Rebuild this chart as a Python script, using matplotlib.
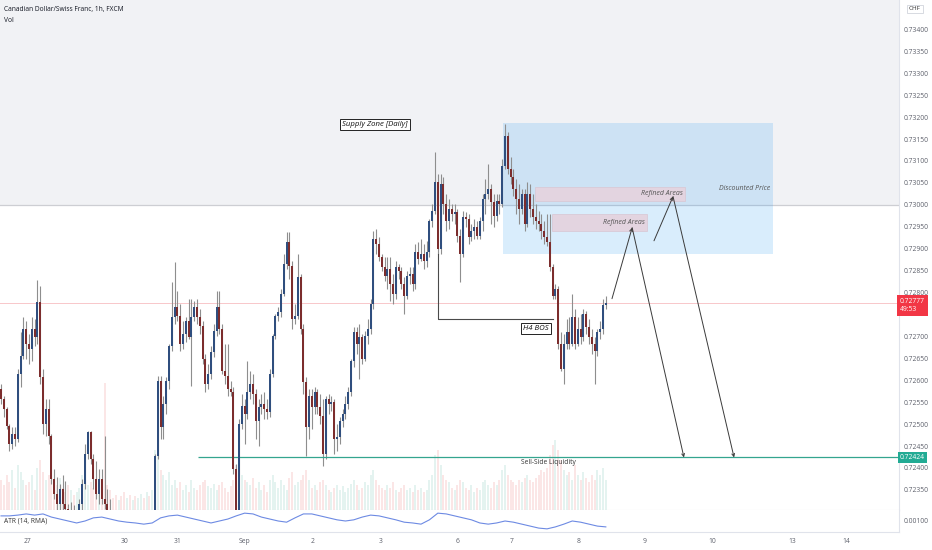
import numpy as np
import matplotlib
matplotlib.use('Agg')
import matplotlib.pyplot as plt
from matplotlib.patches import Rectangle
from matplotlib.transforms import blended_transform_factory, offset_copy

# ---------------- data (prices in 1e-5 CHF) ----------------
first_open = 72581
closes = [
 72558,72535,72496,72455,72478,72467,72615,72656,72718,72683,
 72672,72718,72699,72779,72608,72501,72535,72474,72376,72341,
 72319,72353,72319,72307,72273,72284,72262,72284,72319,72364,
 72433,72483,72421,72376,72341,72376,72330,72319,72296,72273,
 72250,72227,72239,72216,72205,72221,72211,72227,72216,72234,
 72243,72239,72257,72250,72273,72428,72599,72494,72547,72599,
 72679,72745,72768,72747,72683,72706,72734,72699,72745,72768,
 72745,72724,72649,72592,72615,72665,72713,72768,72718,72622,
 72610,72581,72574,72398,72284,72501,72542,72524,72574,72592,
 72569,72506,72540,72547,72535,72528,72615,72702,72747,72756,
 72797,72866,72916,72861,72740,72747,72836,72718,72597,72494,
 72563,72540,72574,72540,72519,72433,72558,72547,72551,72467,
 72471,72506,72524,72547,72574,72645,72711,72683,72699,72649,
 72702,72718,72775,72923,72911,72882,72859,72838,72854,72820,
 72797,72859,72850,72820,72791,72838,72843,72820,72893,72877,
 72889,72873,72893,72962,72987,73053,72900,73048,73003,72964,
 72991,72980,72984,72930,72889,72973,72968,72927,72941,72950,
 72930,72964,73014,73025,73037,73007,72975,73009,73003,73089,
 73158,73082,73064,73037,73014,72991,73025,72957,73025,72991,
 72973,72964,72957,72941,72927,72916,72859,72793,72809,72683,
 72626,72683,72711,72683,72745,72683,72718,72699,72752,72722,
 72699,72683,72667,72711,72718,72772,72777]
highs = [
 72592,72563,72540,72501,72494,72494,72626,72711,72745,72736,
 72706,72745,72740,72829,72816,72626,72558,72558,72478,72398,
 72380,72364,72385,72371,72319,72323,72316,72303,72330,72376,
 72455,72485,72485,72433,72417,72398,72398,72474,72353,72330,
 72296,72266,72250,72255,72227,72239,72234,72243,72239,72250,
 72266,72262,72273,72273,72289,72433,72610,72610,72563,72608,
 72683,72825,72870,72804,72775,72736,72745,72786,72786,72781,
 72786,72763,72736,72661,72638,72677,72729,72804,72804,72729,
 72683,72683,72599,72585,72410,72512,72569,72558,72645,72622,
 72615,72581,72558,72569,72574,72558,72626,72706,72752,72768,
 72809,72889,72939,72939,72873,72775,72889,72843,72729,72608,
 72581,72581,72585,72581,72569,72558,72563,72569,72563,72558,
 72501,72517,72535,72563,72585,72649,72722,72722,72729,72706,
 72713,72740,72786,72941,72946,72927,72889,72882,72882,72882,
 72843,72873,72866,72859,72836,72850,72859,72859,72911,72916,
 72923,72911,72918,72968,73003,73121,73071,73071,73064,73025,
 73014,73003,73003,72991,72946,72987,72984,72980,72957,72968,
 72964,72973,73025,73060,73094,73048,73025,73025,73025,73105,
 73185,73167,73110,73082,73060,73048,73037,73037,73053,73048,
 73025,73003,72987,72980,72964,72980,72980,72866,72820,72816,
 72711,72706,72740,72745,72797,72763,72745,72752,72763,72759,
 72740,72718,72699,72718,72736,72786,72791]
lows = [
 72547,72517,72490,72439,72444,72451,72460,72585,72649,72649,
 72638,72645,72677,72683,72592,72478,72474,72455,72364,72330,
 72296,72296,72303,72284,72250,72250,72239,72239,72262,72284,
 72353,72421,72410,72353,72330,72319,72319,72307,72284,72262,
 72239,72211,72205,72198,72182,72189,72193,72198,72202,72205,
 72221,72225,72227,72234,72239,72262,72421,72467,72467,72524,
 72581,72667,72729,72734,72667,72672,72688,72695,72588,72736,
 72729,72706,72638,72574,72581,72604,72654,72702,72706,72615,
 72592,72563,72563,72387,72239,72227,72490,72455,72512,72558,
 72547,72467,72451,72524,72512,72512,72517,72608,72695,72736,
 72745,72791,72854,72832,72718,72729,72740,72706,72569,72428,
 72467,72490,72524,72524,72501,72405,72421,72524,72531,72433,
 72439,72455,72494,72512,72535,72563,72631,72661,72604,72638,
 72645,72683,72706,72763,72889,72873,72850,72827,72809,72781,
 72775,72786,72832,72809,72752,72786,72820,72804,72809,72866,
 72873,72854,72859,72882,72950,72980,72889,72889,72980,72941,
 72946,72964,72957,72916,72825,72882,72950,72911,72918,72923,
 72923,72923,72941,72980,73014,72957,72950,72964,72980,72996,
 73082,73071,73048,73019,72980,72957,72980,72941,72950,72973,
 72957,72946,72941,72923,72911,72905,72850,72786,72786,72672,
 72622,72592,72672,72672,72677,72672,72677,72683,72690,72706,
 72683,72661,72592,72656,72695,72706,72763]
volume = [
 30,25,35,28,40,22,45,38,30,25,28,35,20,42,50,38,30,35,
 30,28,25,32,22,18,25,20,15,18,22,35,30,25,28,22,26,20,18,127,25,20,
 12,15,10,14,18,12,15,10,14,12,16,12,18,14,20,
 60,70,40,35,30,38,
 25,30,22,28,20,25,18,30,22,20,25,28,30,24,22,26,20,25,28,22,18,24,30,45,
 50,35,30,28,25,32,22,28,20,25,18,30,35,28,22,30,25,20,32,38,25,28,30,35,40,30,
 22,25,20,28,30,25,20,18,22,25,20,24,18,22,26,30,25,20,22,28,25,35,
 40,30,25,22,20,25,22,28,20,18,22,25,20,22,18,25,20,22,18,20,30,35,55,60,45,35,30,28,
 22,20,25,30,28,22,20,25,18,22,20,28,30,25,22,28,25,30,40,45,
 35,30,28,25,30,28,32,35,30,28,32,35,40,38,42,55,65,70,60,50,
 40,35,38,30,45,35,30,38,32,28,35,30,40,35,42,30]
# ATR(14, RMA), one reading every 3 bars, in 1e-5
atr = [111,111,113,116,113,116,108,103,98,93,98,106,108,103,98,95,93,90,93,106,
       111,113,108,103,98,93,98,103,111,118,116,108,103,98,95,106,116,116,111,106,
       101,98,101,108,113,111,106,101,95,93,90,101,118,116,111,106,101,93,90,93,
       98,95,90,85,80,78,83,90,98,95,90,85,83]

day_pos = [9.3, 44.3, 63.2, 87.1, 111.4, 135.4, 162.9, 182.5, 206.1, 230.0, 253.9, 282.5, 301.8]
day_labels = ['27', '30', '31', 'Sep', '2', '3', '6', '7', '8', '9', '10', '13', '14']

last_price = 0.72777
countdown = '49:53'
ssl_price = 0.72424
ssl_start = 70.4
supply_floor = 0.73000
discount_box = (179.3, 275.7, 0.72889, 0.73187)   # x0, x1, p0, p1
refined_1 = (190.7, 244.3, 0.73009, 0.73041)
refined_2 = (196.8, 230.7, 0.72941, 0.72978)
bos_path_x = [156, 156, 197]
bos_path_p = [0.72889, 0.72740, 0.72740]
path_a = [(218.2, 0.72786), (225.4, 0.72948), (243.9, 0.72424)]
path_b = [(233.2, 0.72918), (240.0, 0.73019), (261.8, 0.72424)]

# ---------------- figure ----------------
W, H = 932, 550
fig = plt.figure(figsize=(W / 100, H / 100), dpi=100)
fig.patch.set_facecolor('white')
FONT = 'Open Sans'
plt.rcParams['font.family'] = [FONT, 'DejaVu Sans']

ax = fig.add_axes([0, (H - 510) / H, 899 / W, 510 / H])
ax_atr = fig.add_axes([0, (H - 532) / H, 899 / W, 22 / H])

c = np.array(closes) / 1e5
o = np.concatenate([[first_open / 1e5], c[:-1]])
hi = np.maximum(np.array(highs) / 1e5, np.maximum(o, c))
lo = np.minimum(np.array(lows) / 1e5, np.minimum(o, c))
x = np.arange(len(c))
up = c >= o

ymax = 0.73467
ymin = ymax - 510 * 0.0000228
xmin, xmax = -0.36, 320.7
ax.set_xlim(xmin, xmax)
ax.set_ylim(ymin, ymax)

# backgrounds
ax.axhspan(supply_floor, ymax + 0.001, color='#f1f2f5', zorder=0, lw=0)
ax.axhline(supply_floor, color='#cdced3', lw=0.9, zorder=1)
ax.axhline(last_price, color='#f7b8bc', lw=0.7, alpha=0.8, zorder=1)

# volume
vol_unit = (ymax - ymin) / 510
vcol = np.where(up, '#e4f3f0', '#fbe6e6')
ax.bar(x, np.array(volume) * vol_unit, bottom=ymin, width=0.72, color=vcol, lw=0, zorder=1)

# boxes
x0, x1, p0, p1 = discount_box
ax.add_patch(Rectangle((x0, p0), x1 - x0, p1 - p0, fc=(0.13, 0.59, 0.95, 0.17), ec='none', zorder=2))
for (rx0, rx1, rp0, rp1) in (refined_1, refined_2):
    ax.add_patch(Rectangle((rx0, rp0), rx1 - rx0, rp1 - rp0, fc='#e3d4e0', ec='#d8c6d3', lw=0.5, zorder=2.5))

# candles
wick_col = '#8e8e8e'
body_col = np.where(up, '#2f4e7e', '#7c2d2d')
ax.vlines(x, lo, hi, color=wick_col, lw=0.8, zorder=3)
body_b = np.minimum(o, c)
body_h = np.maximum(np.abs(c - o), 0.000015)
ax.bar(x, body_h, bottom=body_b, width=0.7, color=body_col, lw=0, zorder=4)

# sell-side liquidity line
ax.hlines(ssl_price, ssl_start, xmax + 5, color='#34a58f', lw=0.9, zorder=3, clip_on=False)
ax.text(195.4, ssl_price - 0.00003, 'Sell-Side Liquidity', fontsize=4.8, color='#333333',
        ha='center', va='top', zorder=6)

# H4 BOS
ax.plot(bos_path_x, bos_path_p, color='#4a4a4a', lw=0.8, zorder=5)
ax.text(191.1, 0.72718, 'H4 BOS', fontsize=5.6, style='italic', color='#111111', ha='center', va='center',
        zorder=6, bbox=dict(boxstyle='square,pad=0.3', fc='white', ec='#222222', lw=0.7))

# supply zone label
ax.text(133.6, 0.73183, 'Supply Zone [Daily]', fontsize=5.6, style='italic', color='#111111',
        ha='center', va='center', zorder=6,
        bbox=dict(boxstyle='square,pad=0.3', fc='white', ec='#222222', lw=0.7))

# refined areas + discounted price
ax.text(refined_1[1] - 0.8, (refined_1[2] + refined_1[3]) / 2, 'Refined Areas', fontsize=5.0,
        style='italic', color='#555555', ha='right', va='center', zorder=6)
ax.text(refined_2[1] - 0.8, (refined_2[2] + refined_2[3]) / 2, 'Refined Areas', fontsize=5.0,
        style='italic', color='#555555', ha='right', va='center', zorder=6)
ax.text(265.4, 0.73037, 'Discounted Price', fontsize=5.0, style='italic', color='#555555',
        ha='center', va='center', zorder=6)

# projected paths
for path in (path_a, path_b):
    for (s, e) in ((path[0], path[1]), (path[1], path[2])):
        ax.annotate('', xy=e, xytext=s, zorder=6,
                    arrowprops=dict(arrowstyle='->', color='#3a3a3a', lw=0.7,
                                    shrinkA=0, shrinkB=0, mutation_scale=5))

# axes styling
for sp in ('top', 'left'):
    ax.spines[sp].set_visible(False)
ax.spines['right'].set_color('#e0e3eb')
ax.spines['bottom'].set_color('#e0e3eb')
ax.set_xticks([])
ticks = [0.72350, 0.72400, 0.72450, 0.72500, 0.72550, 0.72600, 0.72650, 0.72700,
         0.72800, 0.72850, 0.72900, 0.72950, 0.73000, 0.73050, 0.73100, 0.73150,
         0.73200, 0.73250, 0.73300, 0.73350, 0.73400]
ax.yaxis.tick_right()
ax.set_yticks(ticks)
ax.set_yticklabels([f'{t:.5f}' for t in ticks])
ax.tick_params(axis='y', length=0, pad=3, labelsize=4.9, labelcolor='#5d606b')

blend = blended_transform_factory(ax.transAxes, ax.transData)
ax.text(1.0 + 1 / 899, last_price, f'{last_price:.5f}\n{countdown}',
        transform=offset_copy(blend, fig=fig, x=0, y=5, units='dots'),
        fontsize=4.9, color='white', ha='left', va='top', linespacing=1.35, clip_on=False, zorder=10,
        bbox=dict(boxstyle='square,pad=0.45', fc='#f23645', ec='none'))
ax.text(1.0 + 1 / 899, ssl_price, f'{ssl_price:.5f}', transform=blend,
        fontsize=4.9, color='white', ha='left', va='center', clip_on=False, zorder=10,
        bbox=dict(boxstyle='square,pad=0.35', fc='#22ab94', ec='none'))

# ATR pane
ax_atr.set_xlim(xmin, xmax)
ax_atr.set_ylim(0.00070, 0.00126)
atr_x = np.arange(len(atr)) * 3
ax_atr.plot(atr_x, np.array(atr) / 1e5, color='#6d8ae3', lw=0.8)
for sp in ('top', 'left'):
    ax_atr.spines[sp].set_visible(False)
ax_atr.spines['right'].set_color('#e0e3eb')
ax_atr.spines['bottom'].set_color('#e0e3eb')
ax_atr.yaxis.tick_right()
ax_atr.set_yticks([0.00100])
ax_atr.set_yticklabels(['0.00100'])
ax_atr.tick_params(axis='y', length=0, pad=3, labelsize=4.9, labelcolor='#5d606b')
ax_atr.set_xticks(day_pos)
ax_atr.set_xticklabels(day_labels)
ax_atr.tick_params(axis='x', length=0, pad=4.5, labelsize=4.9, labelcolor='#5d606b')
ax_atr.text(0.004, 0.5, 'ATR (14, RMA)', transform=ax_atr.transAxes, fontsize=4.8,
            color='#333333', va='center', ha='left')

# header
fig.text(4 / W, 1 - 10 / H, 'Canadian Dollar/Swiss Franc, 1h, FXCM', fontsize=4.8,
         color='#131722', va='center', ha='left')
fig.text(4 / W, 1 - 21 / H, 'Vol', fontsize=4.8, color='#131722', va='center', ha='left')
fig.text(915 / W, 1 - 9 / H, 'CHF', fontsize=4.6, color='#333333', va='center', ha='center',
         bbox=dict(boxstyle='square,pad=0.3', fc='white', ec='#d1d4dc', lw=0.6))

fig.savefig('out.png', dpi=100, facecolor='white')
